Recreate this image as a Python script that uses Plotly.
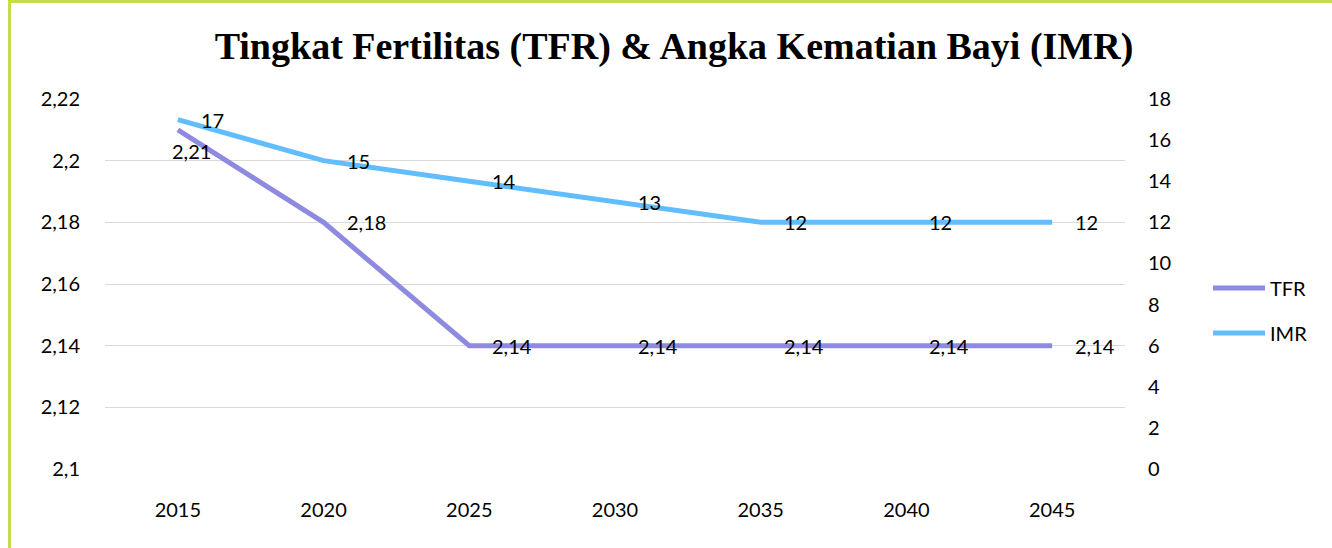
import plotly.graph_objects as go

# Data
years = ["2015", "2020", "2025", "2030", "2035", "2040", "2045"]
tfr = [2.21, 2.18, 2.14, 2.14, 2.14, 2.14, 2.14]
imr = [17, 15, 14, 13, 12, 12, 12]
series_names = ["TFR", "IMR"]

W, H = 1332, 548
# plot area in pixels
PL, PR, PT, PB = 105, 1125, 99, 469
TFR_COLOR = "#8e8ae0"
IMR_COLOR = "#62bdfc"
LABEL_FONT = dict(family="Lato, Calibri, sans-serif", size=20, color="#000000")


def px_x(p):
    return (p - PL) / (PR - PL)


def px_y(p):
    return (PB - p) / (PB - PT)


fig = go.Figure()
fig.add_trace(go.Scatter(x=years, y=tfr, name=series_names[0], mode="lines",
                         line=dict(color=TFR_COLOR, width=5), yaxis="y"))
fig.add_trace(go.Scatter(x=years, y=imr, name=series_names[1], mode="lines",
                         line=dict(color=IMR_COLOR, width=5), yaxis="y2"))

annotations = []


def fmt(v):
    return f"{v:g}".replace(".", ",")


for i, v in enumerate(tfr):
    if i == 0:
        xs, ys = -8, -21
    else:
        xs, ys = 21, 0
    annotations.append(dict(x=i, y=v, xref="x", yref="y", text=fmt(v),
                            showarrow=False, xanchor="left", yanchor="middle",
                            xshift=xs, yshift=ys, font=LABEL_FONT))
for i, v in enumerate(imr):
    annotations.append(dict(x=i, y=v, xref="x", yref="y2", text=fmt(v),
                            showarrow=False, xanchor="left", yanchor="middle",
                            xshift=21, yshift=0, font=LABEL_FONT))

# Outer frame (left and top edges visible)
shapes = [
    dict(type="line", xref="paper", yref="paper",
         x0=px_x(9.5), x1=px_x(9.5), y0=px_y(0), y1=px_y(H + 5),
         line=dict(color="#c6dc4e", width=3)),
    dict(type="line", xref="paper", yref="paper",
         x0=px_x(8), x1=px_x(W + 5), y0=px_y(1.5), y1=px_y(1.5),
         line=dict(color="#c6dc4e", width=3)),
]

# Legend: line swatch + label for each series
legend_rows = [(series_names[0], TFR_COLOR, 288), (series_names[1], IMR_COLOR, 333)]
for name, color, yy in legend_rows:
    shapes.append(dict(type="line", xref="paper", yref="paper",
                       x0=px_x(1213), x1=px_x(1265), y0=px_y(yy), y1=px_y(yy),
                       line=dict(color=color, width=5)))
    annotations.append(dict(x=px_x(1268), y=px_y(yy), xref="paper", yref="paper",
                            text=name, showarrow=False, xanchor="left",
                            yanchor="middle", font=LABEL_FONT))

fig.update_layout(
    width=W, height=H,
    margin=dict(l=PL, r=W - PR, t=PT, b=H - PB, autoexpand=False),
    paper_bgcolor="#ffffff", plot_bgcolor="#ffffff",
    separators=",.",
    title=dict(text="<b>Tingkat Fertilitas (TFR) & Angka Kematian Bayi (IMR)</b>",
               x=674 / W, y=1 - 46 / H, xanchor="center", yanchor="middle",
               xref="container", yref="container",
               font=dict(family="Liberation Serif, DejaVu Serif, serif", size=38, color="#000000")),
    xaxis=dict(type="category", range=[-0.5, 6.5], showgrid=False, showline=False,
               zeroline=False, ticks="", ticklabelstandoff=27, tickfont=LABEL_FONT),
    yaxis=dict(range=[2.1, 2.22], dtick=0.02, tick0=2.1, showgrid=True,
               gridcolor="#d9d9d9", gridwidth=1.3, zeroline=False, showline=False,
               ticks="", ticklabelstandoff=24, tickfont=LABEL_FONT),
    yaxis2=dict(overlaying="y", side="right", range=[0, 18], dtick=2, tick0=0,
                showgrid=False, zeroline=False, showline=False, ticks="",
                ticklabelstandoff=22, tickfont=LABEL_FONT, anchor="x"),
    showlegend=False,
    annotations=annotations,
    shapes=shapes,
)

fig.write_html("out.html")
